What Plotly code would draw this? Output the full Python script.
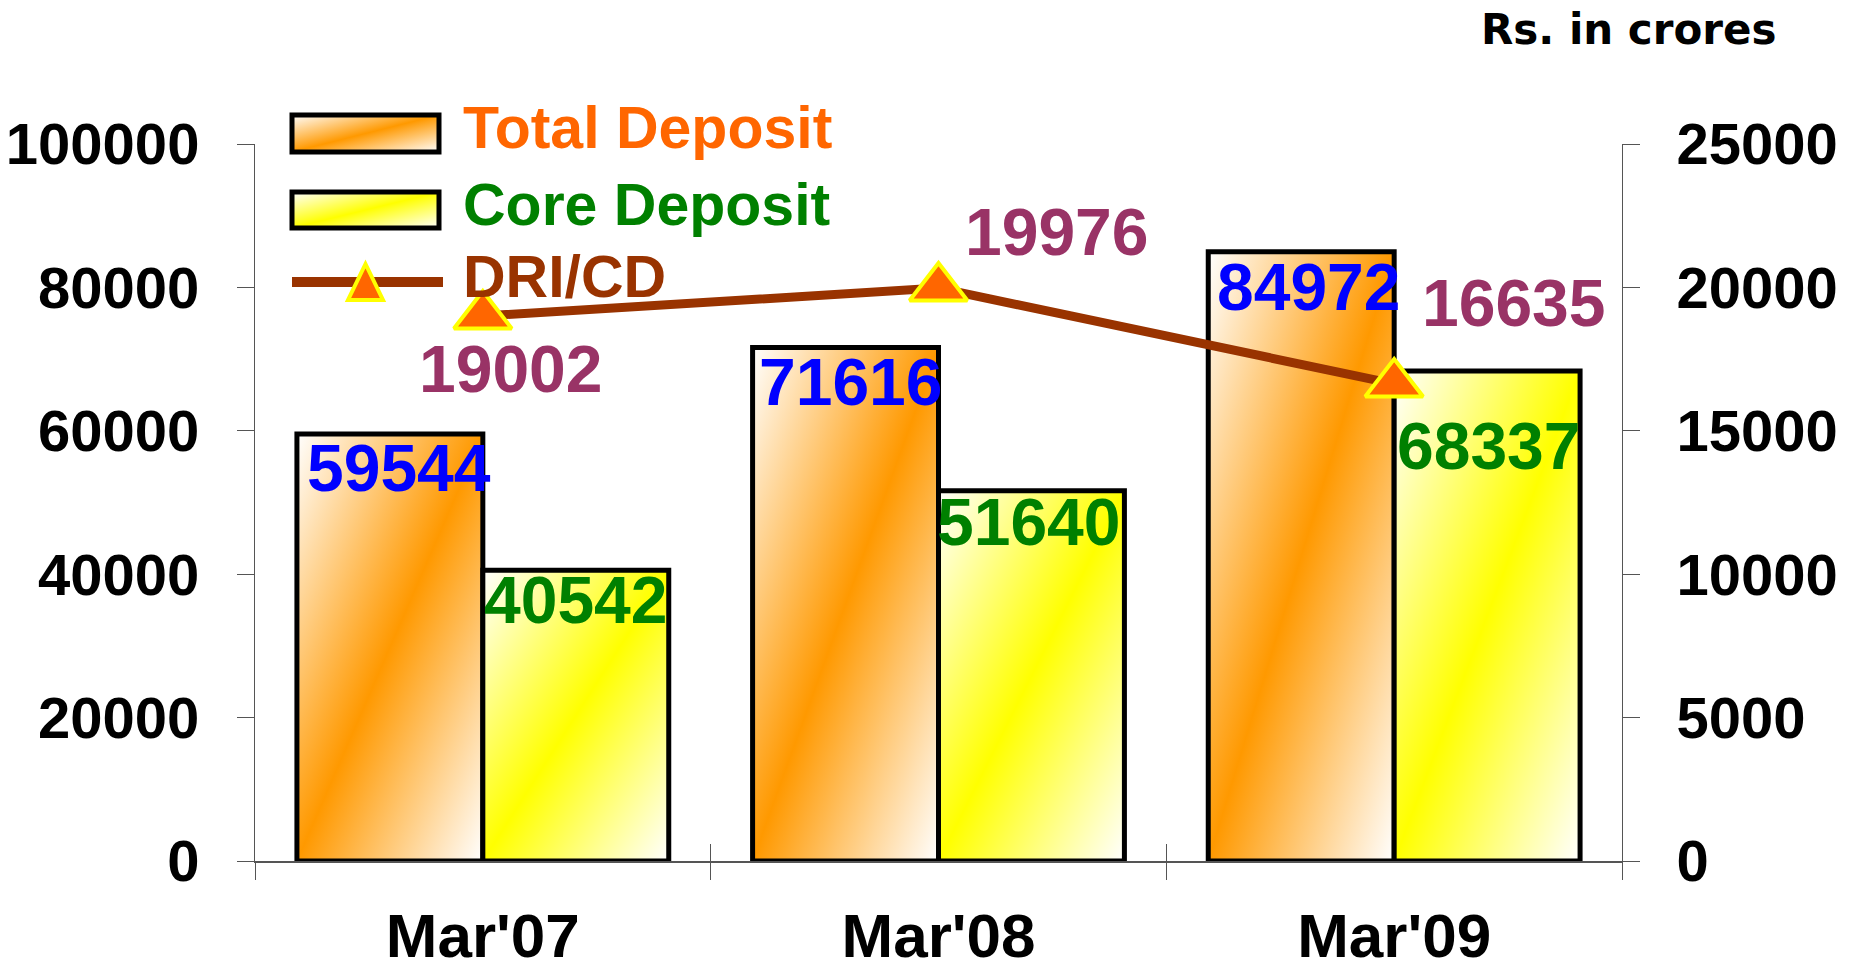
import plotly.graph_objects as go

# ---------------- data ----------------
categories = ["Mar'07", "Mar'08", "Mar'09"]
total_deposit = [59544, 71616, 84972]
core_deposit = [40542, 51640, 68337]
dri_cd = [19002, 19976, 16635]
left_ticks = [0, 20000, 40000, 60000, 80000, 100000]
right_ticks = [0, 5000, 10000, 15000, 20000, 25000]
legend_names = ["Total Deposit", "Core Deposit", "DRI/CD"]
unit_label = "Rs. in crores"

# ---------------- layout geometry / style ----------------
W, H = 1856, 970
ML, MR, MT, MB = 255, 234, 144, 109
PW, PH = W - ML - MR, H - MT - MB


def px(x):
    return (x - ML) / PW


def py(y):
    return (H - MB - y) / PH


AX = "#555555"
ARIAL = "Liberation Sans, Arial, sans-serif"
VERDANA = "DejaVu Sans, Verdana, sans-serif"
ORANGE_TXT = "#FF6600"
GREEN_TXT = "#008000"
BROWN = "#993300"
PLUM = "#993366"
LBL_FS = 66
CAP_PAD = 0.19 * LBL_FS + 2  # distance from annotation box top to cap top

# label placement (pixels): horizontal shift from category centre, cap-top distance below point
total_dx, total_dy = [-84, -88, -85], [9, 10, 11]
core_dx, core_dy = [93, 90, 95], [5, 7, 51]
dri_dx, dri_dy = [28, 118, 120], [29, -81, -105]

fig = go.Figure()
fig.add_trace(go.Bar(
    x=categories, y=total_deposit, name=legend_names[0],
    marker=dict(color="#FF9900", line=dict(color="black", width=5)),
    xaxis="x", yaxis="y", showlegend=False))
fig.add_trace(go.Bar(
    x=categories, y=core_deposit, name=legend_names[1],
    marker=dict(color="#FFFF00", line=dict(color="black", width=5)),
    xaxis="x", yaxis="y", showlegend=False))
fig.add_trace(go.Scatter(
    x=categories, y=dri_cd, name=legend_names[2], mode="lines+markers",
    line=dict(color=BROWN, width=9),
    marker=dict(symbol="triangle-up", size=50, color="#FF6600",
                line=dict(color="#FFFF00", width=4)),
    xaxis="x2", yaxis="y2", showlegend=False))

tickfont = dict(family=ARIAL, size=58, color="black", weight="bold")

fig.update_layout(
    width=W, height=H,
    margin=dict(l=ML, r=MR, t=MT, b=MB, autoexpand=False),
    paper_bgcolor="white", plot_bgcolor="white",
    barmode="group", bargap=0.184, bargroupgap=0,
    showlegend=False,
    font=dict(family=ARIAL, color="black"),
    xaxis=dict(type="category", categoryorder="array", categoryarray=categories,
               range=[-0.5, 2.5], showline=True, linecolor=AX, linewidth=2,
               ticks="outside", ticklen=17, tickwidth=1, tickcolor=AX,
               tickson="boundaries", showgrid=False, zeroline=False,
               tickfont=dict(family=ARIAL, size=62, color="black", weight="bold"),
               ticklabelstandoff=20),
    xaxis2=dict(type="category", categoryorder="array", categoryarray=categories,
                range=[-0.5, 2.5], overlaying="x", anchor="y", side="bottom",
                ticks="inside", ticklen=17, tickwidth=1, tickcolor=AX,
                tickson="boundaries", showticklabels=False, showgrid=False,
                showline=False, zeroline=False),
    yaxis=dict(range=[0, 100000], tickmode="array", tickvals=left_ticks,
               ticktext=[str(v) for v in left_ticks],
               ticks="outside", ticklen=17, tickwidth=1, tickcolor=AX,
               showline=True, linecolor=AX, linewidth=1, showgrid=False,
               zeroline=False, tickfont=tickfont, ticklabelstandoff=26),
    yaxis2=dict(range=[0, 25000], overlaying="y", side="right", anchor="x",
                tickmode="array", tickvals=right_ticks,
                ticktext=[str(v) for v in right_ticks],
                ticks="outside", ticklen=17, tickwidth=1, tickcolor=AX,
                showline=True, linecolor=AX, linewidth=1, showgrid=False,
                zeroline=False, tickfont=tickfont, ticklabelstandoff=25),
    yaxis3=dict(range=[0, 100000], overlaying="y", side="left", anchor="x",
                tickmode="array", tickvals=left_ticks, ticks="inside", ticklen=17,
                tickwidth=1, tickcolor=AX, showticklabels=False, showgrid=False,
                showline=False, zeroline=False),
    yaxis4=dict(range=[0, 25000], overlaying="y", side="right", anchor="x",
                tickmode="array", tickvals=right_ticks, ticks="inside", ticklen=17,
                tickwidth=1, tickcolor=AX, showticklabels=False, showgrid=False,
                showline=False, zeroline=False),
)

annotations = []
for i, c in enumerate(categories):
    annotations.append(dict(
        x=c, y=total_deposit[i], xref="x", yref="y", text=str(total_deposit[i]),
        showarrow=False, xanchor="center", yanchor="top",
        xshift=total_dx[i], yshift=-(total_dy[i] - CAP_PAD),
        font=dict(family=ARIAL, size=LBL_FS, color="#0000FF", weight="bold")))
    annotations.append(dict(
        x=c, y=core_deposit[i], xref="x", yref="y", text=str(core_deposit[i]),
        showarrow=False, xanchor="center", yanchor="top",
        xshift=core_dx[i], yshift=-(core_dy[i] - CAP_PAD),
        font=dict(family=ARIAL, size=LBL_FS, color=GREEN_TXT, weight="bold")))
    annotations.append(dict(
        x=c, y=dri_cd[i], xref="x2", yref="y2", text=str(dri_cd[i]),
        showarrow=False, xanchor="center", yanchor="top",
        xshift=dri_dx[i], yshift=-(dri_dy[i] - CAP_PAD),
        font=dict(family=ARIAL, size=LBL_FS, color=PLUM, weight="bold")))

# legend texts
leg_font = 59
for name, col, yc in zip(legend_names, [ORANGE_TXT, GREEN_TXT, BROWN], [127.5, 205, 276.5]):
    annotations.append(dict(
        x=px(461), y=py(yc), xref="paper", yref="paper", text=name, showarrow=False,
        xanchor="left", yanchor="middle",
        font=dict(family=ARIAL, size=leg_font, color=col, weight="bold")))

# unit label
annotations.append(dict(
    x=px(1779), y=py(29.5), xref="paper", yref="paper", text=unit_label,
    showarrow=False, xanchor="right", yanchor="middle",
    font=dict(family=VERDANA, size=42, color="black", weight="bold")))

fig.update_layout(annotations=annotations)

# manual legend glyphs
shapes = [
    dict(type="rect", xref="paper", yref="paper", x0=px(292), x1=px(439),
         y0=py(152), y1=py(115), fillcolor="#FF9900", line=dict(color="black", width=5)),
    dict(type="rect", xref="paper", yref="paper", x0=px(292), x1=px(439),
         y0=py(228), y1=py(192), fillcolor="#FFFF00", line=dict(color="black", width=5)),
    dict(type="line", xref="paper", yref="paper", x0=px(292), x1=px(443),
         y0=py(282), y1=py(282), line=dict(color=BROWN, width=10)),
    dict(type="path", xref="paper", yref="paper",
         path="M {:.5f},{:.5f} L {:.5f},{:.5f} L {:.5f},{:.5f} Z".format(
             px(348), py(300), px(383), py(300), px(365.5), py(264)),
         fillcolor="#FF6600", line=dict(color="#FFFF00", width=4)),
]
fig.update_layout(shapes=shapes)

post_js = r"""
document.body.style.margin = '0';
document.body.style.overflow = 'hidden';
var gd = document.getElementById('{plot_id}');
function applyGradients(){
  var ns = 'http://www.w3.org/2000/svg';
  var svg = gd.querySelector('svg.main-svg');
  var defs = svg.querySelector('defs');
  if (!defs) { defs = document.createElementNS(ns, 'defs'); svg.insertBefore(defs, svg.firstChild); }
  function mk(id, c0, c1, c2){
    if (document.getElementById(id)) return;
    var g = document.createElementNS(ns, 'linearGradient');
    g.setAttribute('id', id);
    g.setAttribute('x1', '0'); g.setAttribute('y1', '0');
    g.setAttribute('x2', '1'); g.setAttribute('y2', '1');
    [[0, c0], [0.5, c1], [1, c2]].forEach(function(s){
      var st = document.createElementNS(ns, 'stop');
      st.setAttribute('offset', s[0]); st.setAttribute('stop-color', s[1]);
      g.appendChild(st);
    });
    defs.appendChild(g);
  }
  mk('gradTotal', '#FFFFFF', '#FF9900', '#FFFFFF');
  mk('gradCore', '#FFFFFF', '#FFFF00', '#FFFFFF');
  var traces = gd.querySelectorAll('.barlayer .trace.bars');
  var ids = ['gradTotal', 'gradCore'];
  for (var t = 0; t < traces.length && t < 2; t++) {
    traces[t].querySelectorAll('.point path').forEach(function(p){
      p.style.fill = 'url(#' + ids[t] + ')';
    });
  }
  [[0, 'gradTotal'], [1, 'gradCore']].forEach(function(a){
    var el = gd.querySelector('.shapelayer [data-index="' + a[0] + '"]');
    if (el && el.tagName.toLowerCase() !== 'path') el = el.querySelector('path');
    if (el) el.style.fill = 'url(#' + a[1] + ')';
  });
}
applyGradients();
gd.on('plotly_afterplot', applyGradients);
"""

fig.write_html("out.html", post_script=post_js, config={"displayModeBar": False})
